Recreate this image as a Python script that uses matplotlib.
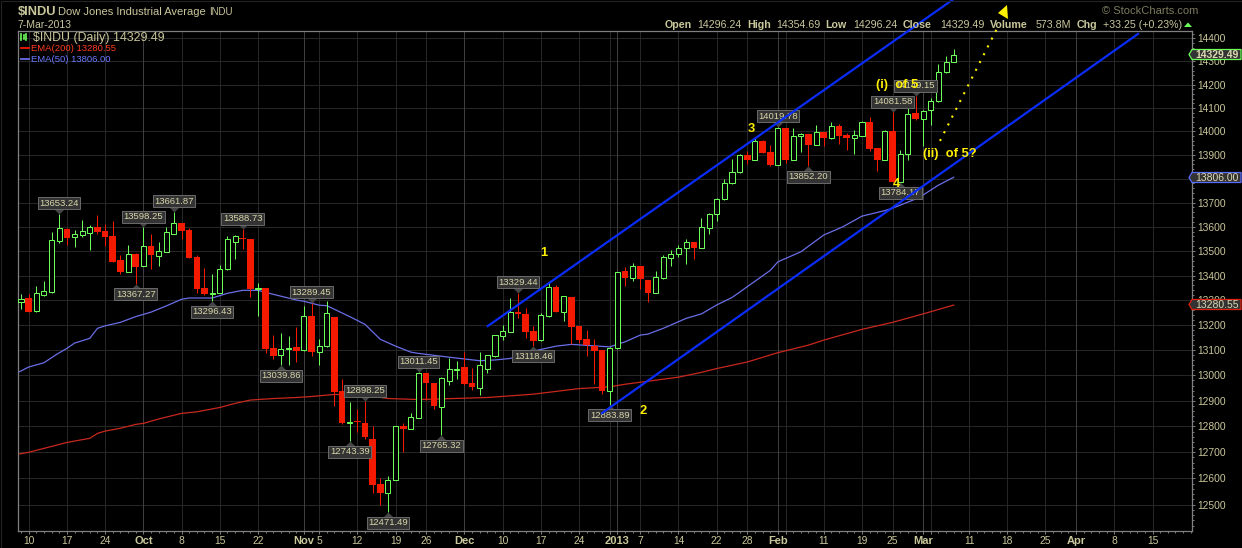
import matplotlib
matplotlib.use('Agg')
import matplotlib.pyplot as plt
import numpy as np

from matplotlib.patches import Polygon, Rectangle
from matplotlib.path import Path
from matplotlib.transforms import Affine2D

WIDTH, HEIGHT = 1242, 548

# Trading sessions, Sep 7 2012 to Mar 7 2013, one entry per session.
opens = [
    13291, 13311, 13258, 13321, 13332, 13542, 13590, 13556, 13567, 13575,
    13598, 13582, 13561, 13463, 13416, 13488, 13440, 13520, 13481, 13497,
    13571, 13615, 13586, 13475, 13348, 13325, 13330, 13426, 13537, 13555,
    13549, 13346, 13349, 13107, 13082, 13106, 13114, 13100, 13236, 13094,
    13116, 13233, 12938, 12813, 12821, 12812, 12751, 12578, 12545, 12594,
    12800, 12791, 12834, 13011, 12970, 12877, 12979, 13021, 13033, 12970,
    12952, 13026, 13076, 13157, 13173, 13252, 13244, 13175, 13139, 13236,
    13352, 13251, 13312, 13196, 13146, 13118, 13100, 12939, 13107, 13418,
    13391, 13438, 13381, 13330, 13391, 13473, 13490, 13511, 13536, 13514,
    13596, 13652, 13714, 13780, 13827, 13900, 13880, 13958, 13912, 13859,
    14014, 13880, 13979, 13988, 13943, 13996, 13973, 14023, 13984, 13973,
    13981, 14040, 13928, 13880, 14000, 13785, 13903, 14079, 14054, 14092,
    14128, 14253, 14296.24,
]
highs = [
    13325, 13327, 13357, 13378, 13577, 13653.24, 13593, 13586, 13628, 13606,
    13648, 13611, 13623, 13484, 13525, 13491, 13598.25, 13570, 13537, 13598,
    13661.87, 13615, 13593, 13484, 13431, 13406, 13443, 13561, 13565, 13588.73,
    13549, 13369, 13350, 13160, 13168, 13156, 13193, 13277, 13289.45, 13143,
    13297, 13233, 12985, 12896, 12867, 12898.25, 12802, 12603, 12608, 12802,
    12812, 12853, 13011.45, 13011, 12970, 12995, 13067, 13056, 13092, 13030,
    13091, 13079, 13160, 13199, 13308, 13329.44, 13268, 13196, 13248, 13369,
    13362, 13317, 13312, 13196, 13180, 13146, 13100, 13113, 13415, 13436,
    13450, 13439, 13382, 13418, 13484, 13504, 13525, 13549, 13537, 13635,
    13657, 13719, 13798, 13882, 13905, 13916, 13970, 13964, 13942, 14019.78,
    14014, 14013, 13994, 13989, 14027, 13997, 14038, 14031, 13994, 14006,
    14045, 14059, 13929, 14006, 14081.58, 13920, 14100, 14149.15, 14090, 14143,
    14289, 14325, 14354.69,
]
lows = [
    13265, 13252, 13254, 13317, 13328, 13534, 13525, 13516, 13559, 13504,
    13570, 13520, 13456, 13406, 13414, 13367.27, 13438, 13427, 13439, 13495,
    13569, 13548, 13471, 13330, 13323, 13296.43, 13328, 13424, 13467, 13508,
    13314, 13238, 13088, 13065, 13039.86, 13040, 13054, 13098, 13076, 13040,
    13113, 12880, 12811, 12743.39, 12779, 12751, 12545, 12498, 12471.49, 12592,
    12702, 12789, 12832, 12905, 12868, 12765.32, 12962, 12984, 12964, 12943,
    12923, 13010, 13074, 13140, 13171, 13229, 13149, 13118.46, 13137, 13233,
    13252, 13216, 13124, 13127, 13077, 12966, 12927, 12883.89, 13105, 13359,
    13379, 13344, 13294, 13328, 13385, 13440, 13474, 13447, 13467, 13511,
    13570, 13625, 13712, 13778, 13825, 13863, 13878, 13907, 13855, 13857,
    13867, 13878, 13912, 13852.20, 13941, 13939, 13969, 13946, 13921, 13904,
    13979, 13918, 13832, 13878, 13785, 13784.17, 13879, 14049, 13939, 14027,
    14126, 14251, 14296.24,
]
closes = [
    13307, 13254, 13328, 13337, 13544, 13593, 13553, 13569, 13581, 13598,
    13579, 13559, 13456, 13416, 13486, 13435, 13519, 13484, 13499, 13577,
    13614, 13583, 13473, 13346, 13325, 13331, 13426, 13551, 13561, 13549,
    13346, 13349, 13104, 13077, 13106, 13110, 13096, 13236, 13091, 13115,
    13248, 12936, 12812, 12818, 12818, 12759, 12575, 12545, 12592, 12800,
    12792, 12838, 13011, 12970, 12881, 12988, 13024, 13027, 12966, 12956,
    13040, 13079, 13159, 13175, 13251, 13245, 13173, 13138, 13239, 13352,
    13254, 13316, 13193, 13142, 13121, 13098, 12938, 13107, 13413, 13391,
    13438, 13386, 13331, 13393, 13474, 13490, 13511, 13536, 13514, 13598,
    13652, 13714, 13780, 13827, 13898, 13880, 13958, 13909, 13857, 14013,
    13879, 13979, 13987, 13942, 13996, 13973, 14021, 13981, 13973, 13984,
    14038, 13925, 13880, 14000, 13785, 13903, 14075, 14051, 14088, 14131,
    14253, 14296, 14329.49,
]

ema50_idx = [
    -0.5, 1, 3, 4.7, 6, 7, 9, 10, 11, 13, 15, 17, 19, 21, 22, 25, 27, 29, 31,
    33, 36, 37, 39, 40, 43, 45, 47, 49, 51, 52, 56, 60, 62, 64, 67, 70, 72,
    75, 77, 79, 81, 82, 84, 87, 89, 91, 93, 98, 99, 102, 105, 107.5, 110, 113,
    114, 116.7, 118, 120, 122,
]
ema50_val = [
    13010, 13033, 13050, 13084, 13107, 13128, 13147, 13187, 13197, 13211,
    13234, 13252, 13277, 13304, 13309, 13309, 13328, 13340, 13340, 13324,
    13301, 13296, 13280, 13278, 13234, 13203, 13143, 13116, 13092, 13087,
    13072, 13058, 13061, 13067, 13096, 13116, 13123, 13117, 13113, 13133,
    13160, 13164, 13187, 13227, 13245, 13281, 13311, 13421, 13456, 13497,
    13566, 13600, 13644, 13667, 13677, 13711, 13732, 13773, 13806,
]
ema200_idx = [
    -0.5, 1, 3, 6, 9, 10, 11, 13, 15, 16, 18, 21, 23, 26, 28, 30, 33, 36, 38,
    41, 45, 48, 52, 61, 67, 73, 77, 79, 82, 86, 89, 91, 95, 99, 103, 105, 110,
    114, 118, 122,
]
ema200_val = [
    12692, 12700, 12715, 12738, 12754, 12773, 12782, 12793, 12808, 12812,
    12829, 12851, 12857, 12874, 12890, 12903, 12909, 12913, 12917, 12925,
    12922, 12909, 12905, 12913, 12926, 12948, 12955, 12965, 12977, 12993,
    13012, 13027, 13053, 13090, 13120, 13140, 13183, 13211, 13245, 13280.55,
]

# Peak and trough call-outs.
peak_idx = [5, 16, 20, 29, 38, 45, 52, 65, 99, 114, 117]
peak_val = [13653.24, 13598.25, 13661.87, 13588.73, 13289.45, 12898.25,
            13011.45, 13329.44, 14019.78, 14081.58, 14149.15]
trough_idx = [15, 25, 34, 43, 48, 55, 67, 77, 103, 115]
trough_val = [13367.27, 13296.43, 13039.86, 12743.39, 12471.49, 12765.32,
              13118.46, 12883.89, 13852.20, 13784.17]

# Hand-drawn channel and projection, in session index and price.
upper_idx, upper_val = [61.05, 121.8], [13196, 14569]
lower_idx, lower_val = [76.0, 146.1], [12852, 14420]
proj_idx, proj_val = [120.2, 127.7], [13959, 14446]

y_ticks = list(range(12500, 14500, 100))
# The 13800 label sits under the EMA(50) price tag in the original.
y_tick_labels = ['' if t == 13800 else str(t) for t in y_ticks]
x_tick_idx = [1, 6, 11, 16, 21, 26, 31, 37, 39, 44, 49, 53, 58, 63, 68, 73, 77,
              78, 81, 86, 91, 95, 99, 100, 105, 110, 114, 118, 119, 124, 129,
              134, 138, 143, 148]
x_tick_labels = ['10', '17', '24', 'Oct', '8', '15', '22', 'Nov', '5', '12',
                 '19', '26', 'Dec', '10', '17', '24', '', '2013', '7', '14',
                 '22', '28', 'Feb', '', '11', '19', '25', 'Mar', '', '11',
                 '18', '25', 'Apr', '8', '15']
month_idx = [16, 37, 58, 78, 99, 118, 138]

TAN = '#c9c79b'
GREEN = '#6cff5a'
RED = '#f41a00'
BLUE_EMA = '#6a6ee8'
RED_EMA = '#c8281e'
CHANNEL = '#0a2cf8'
YELLOW = '#fff000'
BOX = '#333333'
BOX_EDGE = '#6a6a6a'

plt.rcParams['font.family'] = ['Liberation Sans', 'DejaVu Sans']


def draw_candles(ax):
    for i, (o, h, l, c) in enumerate(zip(opens, highs, lows, closes)):
        up = c >= o
        color = GREEN if up else RED
        wick = ax.vlines(i, l, h, color=color, lw=0.72, zorder=3)
        wick.set_snap(True)
        bottom, top = min(o, c), max(o, c)
        if up:
            bars = ax.bar(i, top - bottom, bottom=bottom, width=0.66,
                          facecolor='black', edgecolor=color, linewidth=0.72,
                          zorder=4)
        else:
            bars = ax.bar(i, top - bottom, bottom=bottom, width=0.86, color=color,
                          linewidth=0, zorder=4)
        bars[0].set_snap(True)


def draw_callouts(ax, idx, vals, above):
    """Price boxes with a small pointer sitting on the high or low."""
    sign = 1 if above else -1
    pointer = Path([(0, 0), (-1, sign), (1, sign), (0, 0)])
    ax.plot(idx, vals, ls='none', marker=pointer, ms=7.4, color='#454545',
            mew=0, zorder=5, clip_on=False)
    for i, v in zip(idx, vals):
        ax.annotate(f'{v:.2f}', xy=(i, v), xytext=(0, sign * 10.5),
                    textcoords='offset pixels', ha='center', va='center',
                    fontsize=6.8, color='#d8d6aa', zorder=6,
                    bbox=dict(boxstyle='square,pad=0.16', fc=BOX, ec=BOX_EDGE,
                              lw=0.7))


def price_tag(fig, px, y, text, edge, bold=False):
    fig.add_artist(Polygon([(1189, y), (1192, y - 5), (1241, y - 5),
                            (1241, y + 5), (1192, y + 5)], closed=True,
                           transform=px, fc=BOX, ec=edge, lw=0.9, zorder=8))
    fig.text(1216.5, y + 0.3, text, transform=px, ha='center', va='center',
             fontsize=7.5, color='#dcdab0', fontweight='bold' if bold else 'normal',
             zorder=9)


def draw_header(fig, px):
    fig.text(18, 12, '$INDU', transform=px, color=TAN, fontsize=9.3,
             fontweight='bold', va='center')
    fig.text(58, 12, 'Dow Jones Industrial Average', transform=px, color=TAN,
             fontsize=8.0, va='center')
    fig.text(209, 12, 'INDU', transform=px, color=TAN, fontsize=6.9, va='center')
    fig.text(17, 25, '7-Mar-2013', transform=px, color=TAN, fontsize=7.5,
             va='center')

    items = [(665, 'Open', True), (697, '14296.24', False),
             (747, 'High', True), (776, '14354.69', False),
             (825, 'Low', True), (853, '14296.24', False),
             (903, 'Close', True), (940, '14329.49', False),
             (990, 'Volume', True), (1036, '573.8M', False),
             (1077, 'Chg', True), (1103, '+33.25 (+0.23%)', False)]
    for x, text, bold in items:
        fig.text(x, 24.5, text, transform=px, color=TAN, fontsize=7.7,
                 fontweight='bold' if bold else 'normal', va='center')
    fig.add_artist(Polygon([(1184, 27), (1192, 27), (1188, 22.5)], closed=True,
                           transform=px, fc=GREEN, ec='none'))
    fig.text(1102, 11.5, '\u00a9 StockCharts.com', transform=px, color='#7c7a5c',
             fontsize=8.0, va='center')

    # Legend block inside the plot.
    for x, y0, y1 in [(21, 34, 40), (23.5, 35, 39), (26, 34, 40)]:
        fig.add_artist(plt.Line2D([x, x], [y0, y1], transform=px, color=GREEN,
                                  lw=1.2))
    fig.text(33, 37.5, '$INDU (Daily) 14329.49', transform=px, color=TAN,
             fontsize=8.9, va='center', zorder=7)
    fig.add_artist(plt.Line2D([21, 29], [48, 48], transform=px, color=RED, lw=1.3))
    fig.text(31, 48.7, 'EMA(200) 13280.55', transform=px, color='#ff3b20',
             fontsize=6.8, va='center', zorder=7)
    fig.add_artist(plt.Line2D([21, 29], [59, 59], transform=px, color=BLUE_EMA,
                              lw=1.3))
    fig.text(31, 59.7, 'EMA(50) 13806.00', transform=px, color='#6a78ff',
             fontsize=6.8, va='center', zorder=7)


def draw_notes(fig, px):
    notes = [(544, 253, '1'), (643, 411, '2'), (751, 129, '3'), (896, 184, '4'),
             (897, 85, '(i)  of 5'), (949.5, 154, '(ii)  of 5?')]
    for x, y, text in notes:
        fig.text(x, y, text, transform=px, color=YELLOW, fontsize=9.3,
                 fontweight='bold', ha='center', va='center', zorder=10)
    fig.add_artist(Polygon([(998, 13), (1007, 5), (1008, 19)], closed=True,
                           transform=px, fc=YELLOW, ec='none', zorder=10))


def main():
    fig = plt.figure(figsize=(WIDTH / 100, HEIGHT / 100), dpi=100, facecolor='black')
    ax = fig.add_axes([17.5 / WIDTH, (HEIGHT - 530.5) / HEIGHT,
                       1174 / WIDTH, 500 / HEIGHT], facecolor='black')
    px = Affine2D().scale(1, -1).translate(0, HEIGHT)

    ax.set_yscale('log')
    ax.set_ylim(12402, 14435)
    ax.set_xlim(-0.458, 153.1)

    ax.set_yticks(y_ticks)
    ax.set_yticklabels(y_tick_labels)
    ax.set_yticks(np.arange(12420, 14440, 20), minor=True, labels=[])
    ax.set_xticks(x_tick_idx)
    ax.set_xticklabels(x_tick_labels)
    ax.set_xticks(np.arange(0, 154), minor=True, labels=[])
    ax.yaxis.tick_right()

    ax.tick_params(axis='y', which='major', colors='#808080', labelcolor=TAN,
                   labelsize=7.4, length=2.5, width=0.7, pad=1.5)
    ax.tick_params(axis='y', which='minor', colors='#808080', length=1.2, width=0.7)
    ax.tick_params(axis='x', which='major', colors='#808080', labelcolor=TAN,
                   labelsize=7.4, length=2.5, width=0.7, pad=1.5)
    ax.tick_params(axis='x', which='minor', colors='#808080', length=1.2, width=0.7)
    for label in ax.get_xticklabels():
        if not label.get_text().isdigit() or label.get_text() == '2013':
            label.set_fontweight('bold')
            label.set_fontsize(8.0)

    ax.grid(True, which='major', color='#262626', lw=0.72)
    ax.set_axisbelow(True)
    for i in month_idx:
        ax.axvline(i, color='#3e3e3e', lw=0.72, zorder=0.9)
    for spine in ax.spines.values():
        spine.set_color('#808080')
        spine.set_linewidth(0.9)

    ax.plot(ema200_idx, ema200_val, color=RED_EMA, lw=0.9, zorder=2)
    ax.plot(ema50_idx, ema50_val, color=BLUE_EMA, lw=0.9, zorder=2)
    draw_candles(ax)
    draw_callouts(ax, peak_idx, peak_val, above=True)
    draw_callouts(ax, trough_idx, trough_val, above=False)

    ax.plot(upper_idx, upper_val, color=CHANNEL, lw=1.6, clip_on=False, zorder=7)
    ax.plot(lower_idx, lower_val, color=CHANNEL, lw=1.6, clip_on=False, zorder=7)
    ax.plot(proj_idx, proj_val, color=YELLOW, lw=1.5, ls=(0, (1, 3.2)),
            clip_on=False, zorder=7)

    price_tag(fig, px, 54.5, '14329.49', GREEN, bold=True)
    price_tag(fig, px, 177.5, '13806.00', '#5a6cff')
    price_tag(fig, px, 304.5, '13280.55', '#e02010')
    draw_header(fig, px)
    draw_notes(fig, px)

    fig.add_artist(Rectangle((0.5, 0.5), WIDTH - 1, HEIGHT - 1, transform=px,
                             fill=False, ec='#242424', lw=0.8))
    fig.savefig('out.png', dpi=100, facecolor='black')


if __name__ == '__main__':
    main()
